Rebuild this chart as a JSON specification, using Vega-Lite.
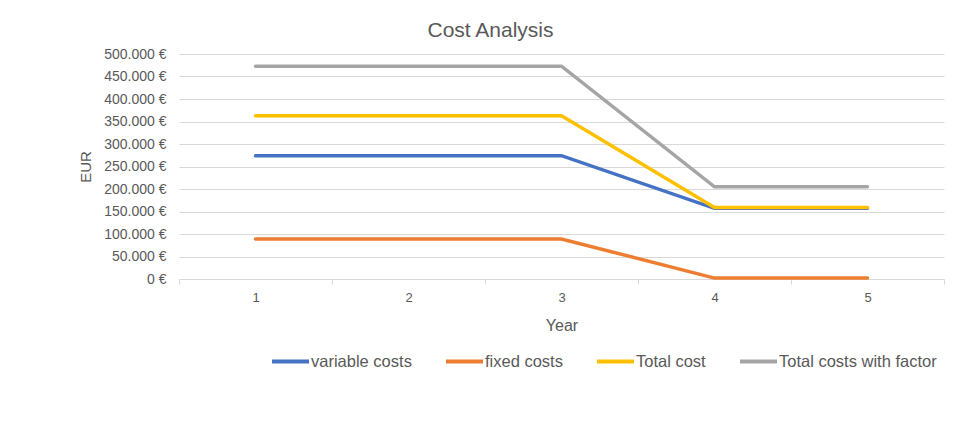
{
  "$schema": "https://vega.github.io/schema/vega-lite/v6.json",
  "width": 765,
  "height": 225,
  "autosize": {"type": "none"},
  "padding": {"left": 179, "top": 54, "right": 15, "bottom": 149},
  "background": "white",
  "config": {
    "locale": {"number": {"decimal": ",", "thousands": ".", "grouping": [3], "currency": ["", " €"]}},
    "font": "Liberation Sans",
    "view": {"stroke": null}
  },
  "title": {"text": "Cost Analysis", "fontSize": 21, "fontWeight": "normal", "color": "#595959", "anchor": "middle", "offset": 6, "dx": -71},
  "data": {"values": [
    {"Year": "1", "Series": "variable costs", "Cost": 274000},
    {"Year": "2", "Series": "variable costs", "Cost": 274000},
    {"Year": "3", "Series": "variable costs", "Cost": 274000},
    {"Year": "4", "Series": "variable costs", "Cost": 157000},
    {"Year": "5", "Series": "variable costs", "Cost": 157000},
    {"Year": "1", "Series": "fixed costs", "Cost": 89000},
    {"Year": "2", "Series": "fixed costs", "Cost": 89000},
    {"Year": "3", "Series": "fixed costs", "Cost": 89000},
    {"Year": "4", "Series": "fixed costs", "Cost": 2000},
    {"Year": "5", "Series": "fixed costs", "Cost": 2000},
    {"Year": "1", "Series": "Total cost", "Cost": 363000},
    {"Year": "2", "Series": "Total cost", "Cost": 363000},
    {"Year": "3", "Series": "Total cost", "Cost": 363000},
    {"Year": "4", "Series": "Total cost", "Cost": 159000},
    {"Year": "5", "Series": "Total cost", "Cost": 159000},
    {"Year": "1", "Series": "Total costs with factor", "Cost": 473000},
    {"Year": "2", "Series": "Total costs with factor", "Cost": 473000},
    {"Year": "3", "Series": "Total costs with factor", "Cost": 473000},
    {"Year": "4", "Series": "Total costs with factor", "Cost": 205000},
    {"Year": "5", "Series": "Total costs with factor", "Cost": 205000}
  ]},
  "mark": {"type": "line", "strokeWidth": 3.5, "strokeCap": "round"},
  "encoding": {
    "x": {
      "field": "Year", "type": "ordinal", "bandPosition": 0.5,
      "scale": {"type": "band", "paddingInner": 0, "paddingOuter": 0},
      "axis": {
        "title": "Year", "titleFontSize": 16, "titleFontWeight": "normal", "titleColor": "#595959", "titlePadding": 13,
        "labelAngle": 0, "labelFontSize": 13, "labelColor": "#595959", "labelPadding": 7,
        "domainColor": "#d9d9d9", "tickColor": "#d9d9d9", "tickSize": 5, "tickBand": "extent", "grid": false
      }
    },
    "y": {
      "field": "Cost", "type": "quantitative",
      "scale": {"domain": [0, 500000], "nice": false},
      "axis": {
        "title": "EUR", "titleFontSize": 15, "titleFontWeight": "normal", "titleColor": "#595959", "titlePadding": 10,
        "format": "$,.0f", "values": [0, 50000, 100000, 150000, 200000, 250000, 300000, 350000, 400000, 450000, 500000],
        "labelFontSize": 14, "labelColor": "#595959", "labelPadding": 13,
        "domain": false, "ticks": false, "grid": true, "gridColor": "#d9d9d9", "gridWidth": 1
      }
    },
    "color": {
      "field": "Series", "type": "nominal",
      "scale": {"domain": ["variable costs", "fixed costs", "Total cost", "Total costs with factor"], "range": ["#4472C4", "#ED7D31", "#FFC000", "#A5A5A5"]},
      "legend": {
        "title": null, "orient": "none", "direction": "horizontal", "legendX": 91, "legendY": 287,
        "symbolType": "stroke", "symbolSize": 1369, "symbolStrokeWidth": 4,
        "labelFontSize": 16.5, "labelColor": "#595959", "labelOffset": 0, "columnPadding": 26
      }
    }
  }
}
